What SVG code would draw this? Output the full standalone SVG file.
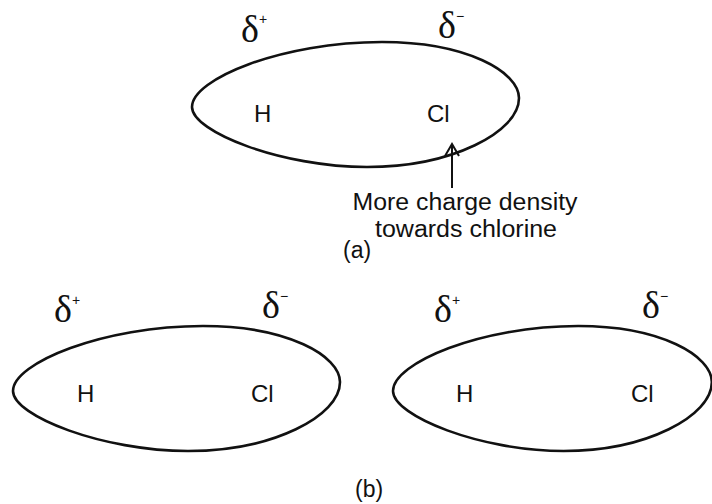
<svg xmlns="http://www.w3.org/2000/svg" width="712" height="504" viewBox="0 0 712 504">
<style>
.mol{fill:none;stroke:#111;stroke-width:2.6}
.atom{font-family:"Liberation Sans",Arial,sans-serif;font-size:24px;fill:#111}
.lbl{font-family:"Liberation Sans",Arial,sans-serif;font-size:23px;fill:#111}
.d{font-family:"Liberation Serif","Times New Roman",serif;font-size:38px;fill:#111}
.sup{font-family:"Liberation Sans",Arial,sans-serif;font-size:14px;fill:#111}
.conn{stroke:#111;stroke-width:2;fill:none}
</style>
<defs>
<path id="egg" d="M0,0 C0,-28 90,-65 190,-65 C275,-65 327,-35 327,-9 C327,25 260,60 175,60 C90,60 0,25 0,0 Z"/>
</defs>
<rect width="712" height="504" fill="#fff"/>

<g id="hcl-a">
<use href="#egg" class="mol" transform="translate(192,107)"/>
<text class="atom" x="254" y="122">H</text>
<text class="atom" x="427" y="122">Cl</text>
<text class="d" x="241" y="42">δ</text><text class="sup" x="259" y="24">+</text>
<text class="d" x="438" y="38">δ</text><text class="sup" x="456" y="21">−</text>
</g>

<g id="note-a">
<text class="lbl" x="465" y="210" text-anchor="middle" textLength="225" lengthAdjust="spacingAndGlyphs">More charge density</text>
<text class="lbl" x="466" y="237" text-anchor="middle" textLength="182" lengthAdjust="spacingAndGlyphs">towards chlorine</text>
</g>

<g id="connectors">
<line class="conn" x1="452" y1="188" x2="452" y2="145"/>
<polyline class="conn" points="445,156 452,144 459,156"/>
</g>

<text id="cap-a" class="lbl" x="343" y="258">(a)</text>

<g id="hcl-b1">
<use href="#egg" class="mol" transform="translate(13,391)"/>
<text class="atom" x="77" y="402">H</text>
<text class="atom" x="251" y="402">Cl</text>
<text class="d" x="54" y="322">δ</text><text class="sup" x="72" y="305">+</text>
<text class="d" x="262" y="318">δ</text><text class="sup" x="280" y="301">−</text>
</g>

<g id="hcl-b2">
<use href="#egg" class="mol" transform="translate(393,391) scale(0.975,1)"/>
<text class="atom" x="456" y="402">H</text>
<text class="atom" x="631" y="402">Cl</text>
<text class="d" x="434" y="322">δ</text><text class="sup" x="452" y="305">+</text>
<text class="d" x="642" y="318">δ</text><text class="sup" x="660" y="301">−</text>
</g>

<text id="cap-b" class="lbl" x="355" y="497">(b)</text>
</svg>
